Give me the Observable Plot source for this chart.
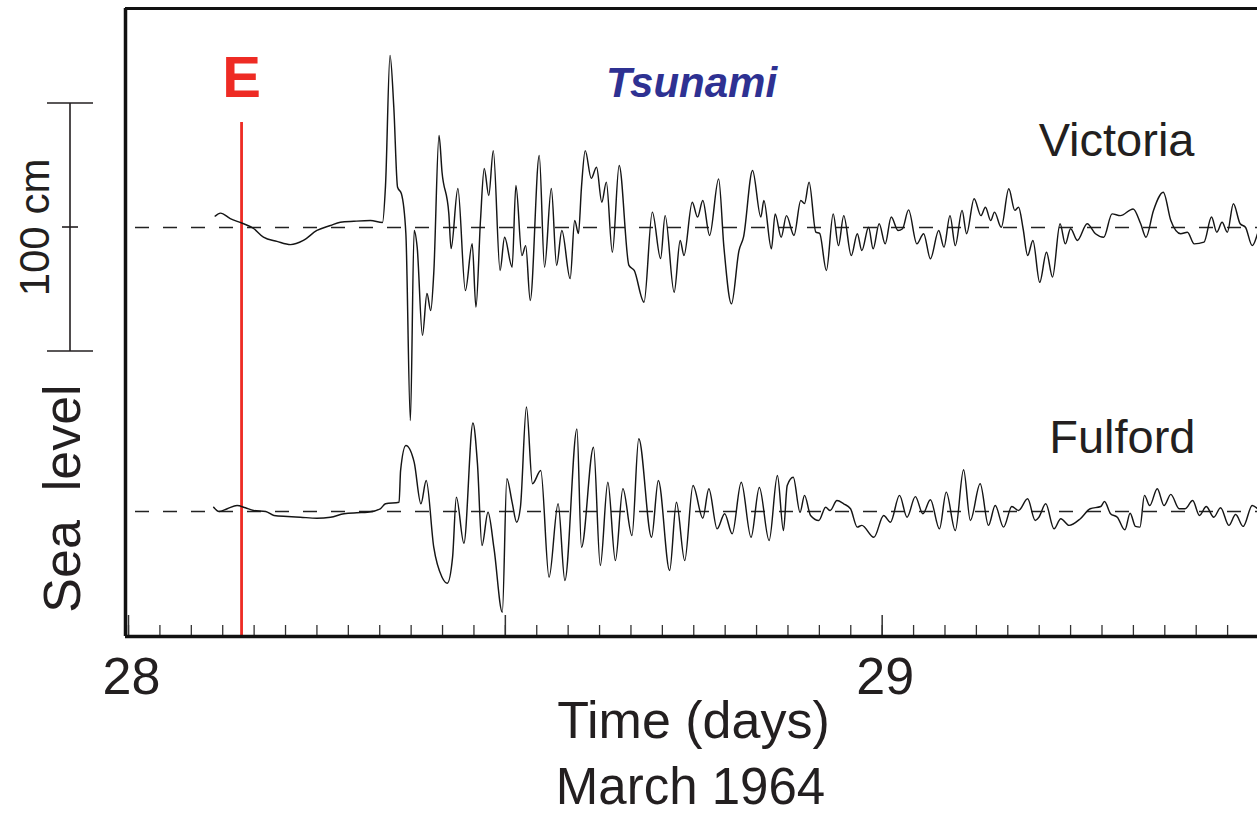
<!DOCTYPE html>
<html><head><meta charset="utf-8">
<script src="https://cdn.jsdelivr.net/npm/d3@7"></script>
<script src="https://cdn.jsdelivr.net/npm/@observablehq/plot@0.6"></script>
<style>
html,body{margin:0;padding:0;background:#fff;overflow:hidden;}
#chart svg text{white-space:pre;}
</style>
</head><body><div id="chart"></div>
<script>
// ---- data (time in days of March 1964, sea level anomaly in cm) ----
const victoriaTime = [28.115,28.122,28.135,28.151,28.166,28.179,28.197,28.215,28.232,28.250,
28.268,28.281,28.299,28.321,28.337,28.341,28.347,28.352,28.357,28.362,
28.368,28.374,28.379,28.383,28.390,28.396,28.401,28.405,28.412,28.416,
28.425,28.428,28.437,28.447,28.456,28.461,28.467,28.472,28.478,28.484,
28.493,28.499,28.509,28.514,28.522,28.527,28.533,28.545,28.552,28.561,
28.568,28.575,28.586,28.592,28.597,28.601,28.606,28.614,28.621,28.628,
28.634,28.642,28.651,28.664,28.671,28.684,28.695,28.706,28.712,28.724,
28.732,28.737,28.748,28.755,28.762,28.771,28.783,28.790,28.800,28.810,
28.816,28.828,28.839,28.843,28.853,28.858,28.866,28.873,28.883,28.892,
28.897,28.903,28.912,28.917,28.926,28.935,28.942,28.949,28.959,28.967,
28.973,28.982,28.988,28.996,29.004,29.012,29.021,29.027,29.035,29.046,
29.055,29.064,29.075,29.082,29.090,29.097,29.106,29.112,29.122,29.131,
29.137,29.144,29.149,29.158,29.168,29.176,29.181,29.187,29.193,29.200,
29.209,29.218,29.226,29.236,29.243,29.250,29.259,29.272,29.283,29.294,
29.305,29.316,29.333,29.343,29.350,29.360,29.373,29.383,29.396,29.405,
29.414,29.427,29.437,29.444,29.451,29.458,29.466,29.475,29.482,29.491,29.498];
const victoriaCm = [4.6,5.8,3.6,1.7,-0.4,-3.9,-5.6,-6.9,-5.2,-1.2,
0.8,2.1,2.5,2.8,2.0,16.9,69.4,48.5,16.2,13.7,
-2.4,-77.8,-1.2,-7.9,-43.5,-26.6,-33.5,-18.5,37.1,22.3,
5.6,-8.5,15.7,-25.4,-6.5,-32.1,2.8,23.8,12.9,31.0,
-17.3,-3.9,-16.0,16.9,-11.3,-7.3,-29.4,29.0,-16.0,15.7,
-15.3,-1.2,-20.6,2.8,-2.4,16.2,31.0,19.8,24.3,10.2,
18.3,-10.0,25.0,-15.3,-17.3,-30.1,6.2,-12.5,4.8,-26.1,
-5.2,-11.3,10.2,4.2,10.9,-3.2,19.6,-7.9,-30.8,-9.3,
-3.9,23.0,4.2,10.9,-8.6,5.5,-3.9,4.8,-3.2,10.9,
9.7,18.3,-1.9,-2.4,-17.3,5.5,-7.3,4.8,-11.3,-2.5,
-9.3,0.1,-8.6,1.5,-6.6,4.2,-1.2,-0.5,7.1,-6.6,
-2.5,-12.6,-1.2,-7.9,4.8,-7.3,6.9,-2.5,11.6,4.8,
8.2,2.8,6.2,0.1,15.6,6.9,8.2,-0.5,-11.3,-5.2,
-22.1,-10.0,-20.0,1.5,-6.6,-0.5,-5.2,1.5,-2.5,-3.9,
5.5,4.8,7.5,1.5,-3.9,6.9,14.2,2.8,-2.5,-1.9,
-6.6,-5.9,4.2,-1.9,2.1,-1.9,9.6,1.5,0.1,-7.3,-2.5];
const fulfordTime = [28.113,28.120,28.131,28.144,28.155,28.166,28.182,28.193,28.211,28.228,
28.250,28.268,28.286,28.303,28.317,28.334,28.341,28.359,28.361,28.368,
28.379,28.388,28.395,28.405,28.416,28.423,28.430,28.435,28.445,28.457,
28.463,28.469,28.477,28.485,28.496,28.502,28.509,28.515,28.520,28.528,
28.536,28.547,28.558,28.570,28.579,28.595,28.601,28.617,28.626,28.636,
28.646,28.656,28.668,28.677,28.694,28.703,28.718,28.727,28.738,28.749,
28.762,28.770,28.781,28.791,28.801,28.813,28.826,28.837,28.850,28.861,
28.869,28.874,28.882,28.891,28.897,28.905,28.916,28.925,28.931,28.940,
28.949,28.958,28.967,28.973,28.989,29.002,29.011,29.023,29.033,29.044,
29.054,29.064,29.076,29.085,29.097,29.108,29.117,29.130,29.141,29.150,
29.161,29.172,29.181,29.193,29.203,29.208,29.217,29.228,29.237,29.248,
29.263,29.276,29.290,29.295,29.303,29.312,29.322,29.329,29.336,29.342,
29.348,29.355,29.365,29.374,29.383,29.394,29.402,29.412,29.421,29.430,
29.440,29.449,29.460,29.469,29.479,29.491,29.498];
const fulfordCm = [1.7,0,1.1,2.4,1.5,0.4,0,-1.6,-2.0,-2.3,
-2.7,-2.3,-0.9,-0.5,-0.3,1.1,3.1,3.7,16.5,26.6,
19.9,3.1,12.5,-14.4,-26.5,-28.9,-18.4,5.8,-12.8,35.7,
19.2,-13.7,-0.3,-15.0,-40.6,13.2,3.7,-4.3,1.7,42.1,
11.2,16.5,-26.5,3.1,-27.8,33.3,-14.4,25.9,-21.8,11.8,
-19.8,9.2,-9.7,29.3,-10.4,12.5,-23.8,3.7,-19.8,10.5,
-2.7,9.2,-7.0,-0.9,-9.0,11.8,-10.4,9.7,-11.7,14.5,
-7.7,10.5,13.8,-0.3,6.5,-1.6,-3.6,1.7,0.4,4.4,
3.1,1.1,-6.3,-5.6,-10.4,-1.6,-4.3,6.5,-2.3,6.0,
-0.9,4.7,-7.0,7.8,-7.7,16.8,-3.6,11.2,-5.6,2.4,
-6.3,2.0,0.4,5.1,-3.6,-2.3,3.1,-7.0,-2.9,-5.6,
-2.9,1.1,2.0,4.0,-0.9,-2.3,-7.4,-0.7,-6.0,-6.3,
6.5,2.4,9.2,2.4,6.9,1.1,1.1,4.4,-1.6,2.0,
-2.3,1.5,-5.6,-1.2,-6.0,2.4,1.1];
const stations = ["Victoria", "Fulford"];
const quakeTime = 28.15;           // earthquake origin time (E)
const quakeLabel = "E";
const dayTicks = [28, 29];
const halfDayTicks = [28, 28.5, 29, 29.5];
const hourTicks = d3.range(0, 37).map(h => 28 + h / 24);
const scaleBarCm = [-50, 0, 50];   // 100 cm scale bar
const xDomain = [27.996, 29.498];
const yDomain = [-164.9, 88.3];
const fulfordOffset = -114.5;      // vertical offset of the Fulford trace (cm)

// ---- layout ----
const W = 1257, H = 815, mL = 125, mR = 0, mT = 8, mB = 179;
const innerH = H - mT - mB;
const font = "'Liberation Sans', Arial, Helvetica, sans-serif";
const ink = "#231f20";
const red = "#ee2b24";

const vic = victoriaTime.slice(0, Math.min(victoriaTime.length, victoriaCm.length)).map((t, i) => ({t, cm: victoriaCm[i]}));
const ful = fulfordTime.slice(0, Math.min(fulfordTime.length, fulfordCm.length)).map((t, i) => ({t, cm: fulfordCm[i]}));

function scaleBar(index, scales, values, dims) {
  const y = scales.y;
  const cx = dims.marginLeft - 55;
  const g = d3.create("svg:g").attr("stroke", ink).attr("stroke-width", 1.6).attr("fill", "none");
  g.append("line").attr("x1", cx).attr("x2", cx).attr("y1", y(scaleBarCm[0])).attr("y2", y(scaleBarCm[2]));
  for (const v of scaleBarCm) {
    const half = v === 0 ? 8 : 23;
    g.append("line").attr("x1", cx - half).attr("x2", cx + half).attr("y1", y(v)).attr("y2", y(v));
  }
  return g.node();
}

const chart = Plot.plot({
  width: W, height: H,
  marginLeft: mL, marginRight: mR, marginTop: mT, marginBottom: mB,
  style: {fontFamily: font, background: "#fff", color: ink},
  x: {domain: xDomain, axis: null},
  y: {domain: yDomain, axis: null},
  marks: [
    // dashed reference levels
    Plot.ruleY([0, fulfordOffset], {insetLeft: 10, stroke: "#222", strokeWidth: 1.4, strokeDasharray: "14,14"}),
    // earthquake line
    Plot.ruleX([quakeTime], {stroke: red, strokeWidth: 2.8, insetTop: 122 - mT}),
    // sea level traces
    Plot.line(vic, {x: "t", y: "cm", curve: "monotone-x", stroke: "#151515", strokeWidth: 1.45}),
    Plot.line(ful, {x: "t", y: d => d.cm + fulfordOffset, curve: "monotone-x", stroke: "#151515", strokeWidth: 1.45}),
    // ticks
    Plot.ruleX(hourTicks, {stroke: "#333", strokeWidth: 1.3, insetTop: innerH - 11}),
    Plot.ruleX(halfDayTicks, {stroke: "#333", strokeWidth: 1.5, insetTop: innerH - 21}),
    // frame (left, top, bottom)
    Plot.ruleY([yDomain[0]], {stroke: "#111", strokeWidth: 3.5}),
    Plot.ruleY([yDomain[1]], {stroke: "#111", strokeWidth: 3}),
    Plot.ruleX([xDomain[0]], {stroke: "#111", strokeWidth: 3.5}),
    // tick labels
    Plot.text(dayTicks, {x: d => d, text: d => String(d), frameAnchor: "bottom", dy: 57, dx: 3, lineAnchor: "bottom", fontSize: 52, fill: ink}),
    Plot.text(["Time (days)"], {text: d => d, frameAnchor: "bottom", dy: 101, dx: 2, lineAnchor: "bottom", fontSize: 52, fill: ink}),
    Plot.text(["March 1964"], {text: d => d, frameAnchor: "bottom", dy: 167, dx: -1, lineAnchor: "bottom", fontSize: 51, fill: ink}),
    // annotations
    Plot.text([{t: quakeTime, label: quakeLabel}], {x: "t", text: "label", frameAnchor: "top", dy: 96 - mT, lineAnchor: "bottom", fontSize: 58, fontWeight: "bold", fill: red}),
    Plot.text(["Tsunami"], {text: d => d, frameAnchor: "top", dy: 96 - mT, lineAnchor: "bottom", fontSize: 42, fontWeight: "bold", fontStyle: "italic", fill: "#2e3192"}),
    Plot.text([stations[0]], {text: d => d, frameAnchor: "top-right", textAnchor: "end", dx: -63, dy: 155 - mT, lineAnchor: "bottom", fontSize: 47, fill: ink}),
    Plot.text([stations[1]], {text: d => d, frameAnchor: "top-right", textAnchor: "end", dx: -62, dy: 452 - mT, lineAnchor: "bottom", fontSize: 47, fill: ink}),
    // y label and scale bar
    Plot.text(["Sea  level"], {text: d => d, frameAnchor: "left", textAnchor: "middle", rotate: -90, dx: -46, dy: 176, lineAnchor: "bottom", fontSize: 52, fill: ink}),
    Plot.text(["100 cm"], {text: d => d, y: () => scaleBarCm[1], frameAnchor: "left", textAnchor: "middle", rotate: -90, dx: -77, lineAnchor: "bottom", fontSize: 42, fill: ink}),
    scaleBar
  ]
});
document.getElementById("chart").appendChild(chart);
</script>
</body></html>
